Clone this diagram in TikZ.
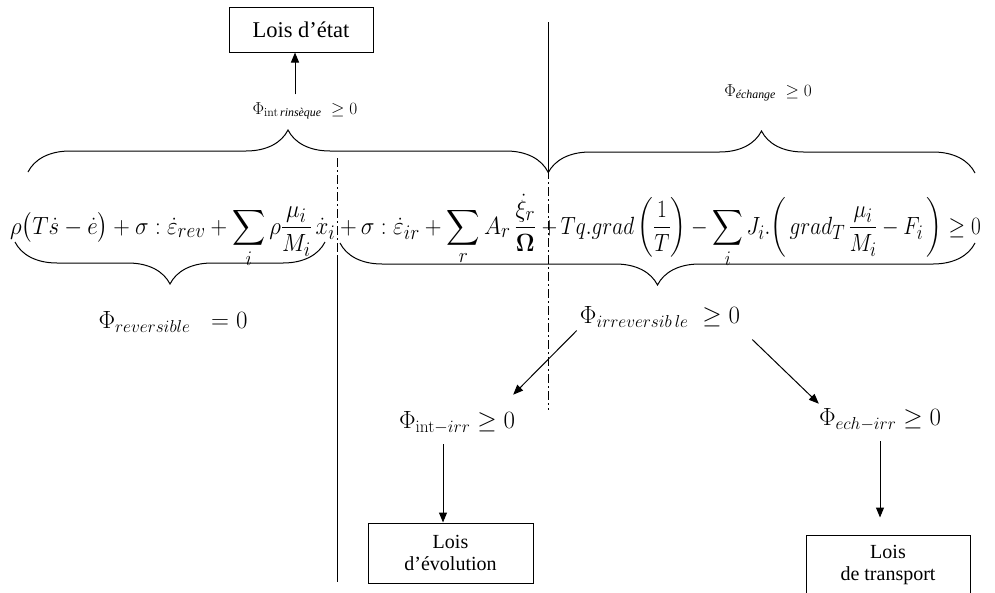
\documentclass[tikz,border=0pt]{standalone}
\usepackage{amsmath}
\usepackage{graphicx}
\usepackage[no-math]{fontspec}
\setmainfont{Liberation Serif}
\usepackage{tikz}
\usetikzlibrary{arrows.meta,decorations.pathreplacing,positioning,calc}

\tikzset{
  loisbox/.style={draw, line width=1pt, align=center, inner sep=0pt},
  eqpart/.style={inner sep=0pt, font=\fontsize{28}{34}\selectfont},
  philabel/.style={inner sep=0pt, font=\fontsize{24}{30}\selectfont},
  smallphi/.style={inner sep=0pt, font=\fontsize{17}{20}\selectfont},
  fleche/.style={-{Triangle[length=10pt,width=8pt]}, line width=1pt},
  accolade/.style={decorate, decoration={brace, amplitude=42pt}, line width=1pt},
  separe/.style={line width=1pt},
  separetiret/.style={line width=1pt, dash pattern=on 9pt off 3pt on 2pt off 3pt}
}

\begin{document}
\begin{tikzpicture}[x=1pt,y=-1pt]
  \useasboundingbox (0,0) rectangle (995,592);

  % Equation split in three parts
  \node[eqpart, anchor=base west] (rev) at (10,234)
    {\resizebox{325pt}{\height}{$\rho\bigl(T\dot s-\dot e\bigr)+\sigma:\dot\varepsilon_{rev}+\displaystyle\sum_i\rho\frac{\mu_i}{M_i}\,\dot x_i$}};
  \node[eqpart, anchor=base west] (irrpart) at (340,234)
    {\resizebox{196pt}{\height}{$+\,\sigma:\dot\varepsilon_{ir}+\displaystyle\sum_r A_r\,\frac{\dot\xi_r}{\boldsymbol\Omega}$}};
  \node[eqpart, anchor=base east] (ech) at (981,234)
    {\resizebox{439pt}{\height}{$+\,Tq.grad\left(\dfrac{1}{T}\right)-\displaystyle\sum_i J_i.\!\left(\,grad_T\,\frac{\mu_i}{M_i}-F_i\,\right)\geq 0$}};

  % Separators
  \draw[separe] (548,22) -- (548,170);
  \draw[separetiret] (548,170) -- (548,410);
  \draw[separetiret] (337,158) -- (337,257);
  \draw[separe] (337,257) -- (337,582);

  % Braces above
  \draw[accolade] (28,172) -- (548,172);
  \draw[accolade] (548,173) -- (975,173);
  % Braces below
  \draw[accolade] (325,242) -- (15,242);
  \draw[accolade] (975,243) -- (340,243);

  % Labels
  \node[smallphi] (rins) at (305,111) {$\Phi_{\mathrm{int}\,\textit{rinsèque}}\;\geq 0$};
  \node[smallphi] (echange) at (768,93) {$\Phi_{\textit{échange}}\;\geq 0$};
  \node[philabel] (reve) at (173,322) {$\Phi_{reversible}\;\;=0$};
  \node[philabel] (irr) at (660,317) {$\Phi_{irreversib\,le}\;\geq 0$};
  \node[philabel] (intirr) at (457,423) {$\Phi_{\mathrm{int}-irr}\geq 0$};
  \node[philabel] (echirr) at (880,420) {$\Phi_{ech-irr}\geq 0$};

  % Boxes
  \node[loisbox, minimum width=144pt, minimum height=45pt,
        font=\fontsize{22.5}{26}\selectfont] (etat) at (301,29.5) {Lois d’état};
  \node[loisbox, minimum width=165pt, minimum height=60pt,
        font=\fontsize{20}{22}\selectfont] (evol) at (450.5,553) {Lois\\d’évolution};
  \node[loisbox, minimum width=164pt, minimum height=60pt,
        font=\fontsize{20}{22}\selectfont] (transp) at (888,565) {Lois\\de transport};

  % Arrows
  \draw[fleche] ([xshift=-10pt,yshift=8pt]rins.north) -- ([xshift=-10pt]rins.north |- etat.south);
  \draw[fleche] ([xshift=-3pt,yshift=-3pt]irr.south west) -- ([xshift=-2pt,yshift=17pt]intirr.north east);
  \draw[fleche] ([xshift=12pt,yshift=-12pt]irr.south east) -- ([xshift=0pt,yshift=5pt]echirr.north west);
  \draw[fleche] ([xshift=-14pt,yshift=-10pt]intirr.south) -- ([xshift=-14pt]intirr.south |- evol.north);
  \draw[fleche] ([yshift=-10pt]echirr.south) -- ([yshift=17pt]echirr.south |- transp.north);
\end{tikzpicture}
\end{document}
